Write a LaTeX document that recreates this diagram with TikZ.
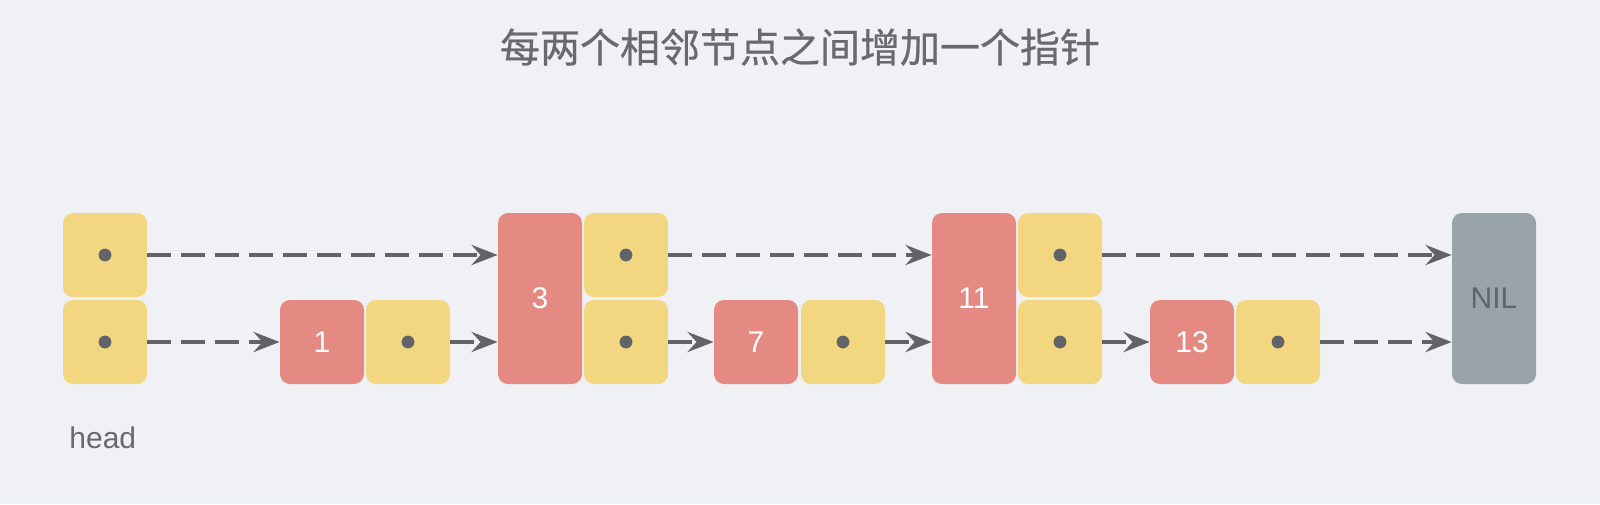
\documentclass[tikz,border=0pt]{standalone}
\usepackage{fontspec}
\setmainfont{Liberation Sans}
\newfontfamily\cjk[FakeBold=0.6]{Noto Sans CJK SC}
\usetikzlibrary{arrows.meta}
\definecolor{bgc}{RGB}{240,241,245}
\definecolor{ptrc}{RGB}{243,214,128}
\definecolor{keyc}{RGB}{228,138,130}
\definecolor{nilc}{RGB}{152,163,170}
\definecolor{linec}{RGB}{98,99,104}
\definecolor{txtc}{RGB}{105,106,110}

\begin{document}
\begin{tikzpicture}[x=0.5pt, y=-0.5pt,
    box/.style={rounded corners=5pt, minimum width=42pt, minimum height=42pt, inner sep=0pt},
    ptr/.style={box, fill=ptrc},
    key/.style={box, fill=keyc, text=white, font=\fontsize{15}{18}\selectfont},
    tallkey/.style={key, minimum height=85.5pt},
    link/.style={draw=linec, line width=2.2pt, dash pattern=on 12pt off 5pt,
        -{Stealth[length=13pt, width=10pt, inset=4.5pt]}}]
    % background and bounding box
    \fill[bgc] (0,0) rectangle (1600,504);
    \useasboundingbox (0,0) rectangle (1600,504);
    
    % 1. title
    \node[text=txtc] (title) at (800,47) {\cjk\fontsize{20}{24}\selectfont 每两个相邻节点之间增加一个指针};
    
    % 2. head
    \node[ptr] (hu) at (105,255) {};
    \node[ptr] (hd) at (105,342) {};
    \node[anchor=base west, inner sep=0pt, text=txtc, font=\fontsize{15}{18}\selectfont] (headlbl) at (69,448) {head};
    
    % 3. list nodes
    \node[key] (k1) at (322,342) {1};
    \node[ptr] (p1) at (408,342) {};
    \node[tallkey] (k3) at (540,298.5) {3};
    \node[ptr] (p3u) at (626,255) {};
    \node[ptr] (p3d) at (626,342) {};
    \node[key] (k7) at (756,342) {7};
    \node[ptr] (p7) at (843,342) {};
    \node[tallkey] (k11) at (974,298.5) {11};
    \node[ptr] (p11u) at (1060,255) {};
    \node[ptr] (p11d) at (1060,342) {};
    \node[key] (k13) at (1192,342) {13};
    \node[ptr] (p13) at (1278,342) {};
    \node[tallkey, fill=nilc, text={rgb,255:red,92;green,102;blue,110}] (nil) at (1494,298.5) {NIL};
    
    % 4. pointer dots
    \foreach \n in {hu,hd,p1,p3u,p3d,p7,p11u,p11d,p13}
        \fill[linec] (\n) circle (3.2pt);
    
    % 5. upper level links
    \draw[link] (hu.east) -- (hu -| k3.west);
    \draw[link] (p3u.east) -- (p3u -| k11.west);
    \draw[link] (p11u.east) -- (p11u -| nil.west);
    
    % 6. lower level links
    \draw[link] (hd.east) -- (k1.west);
    \draw[link] (p1.east) -- (p1 -| k3.west);
    \draw[link] (p3d.east) -- (k7.west);
    \draw[link] (p7.east) -- (p7 -| k11.west);
    \draw[link] (p11d.east) -- (k13.west);
    \draw[link] (p13.east) -- (p13 -| nil.west);
\end{tikzpicture}
\end{document}
